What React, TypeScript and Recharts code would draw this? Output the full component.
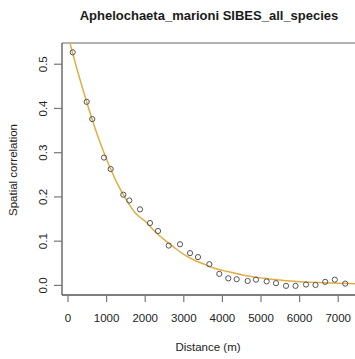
import React from 'react';
import { ComposedChart, Line, Scatter, XAxis, YAxis, ReferenceLine } from 'recharts';

const distances = [122, 484, 629, 933, 1106, 1433, 1588, 1865, 2124, 2332, 2609, 2902, 3161, 3368, 3661, 3920, 4153, 4370, 4655, 4870, 5147, 5389, 5648, 5894, 6166, 6412, 6663, 6912, 7181];
const correlations = [0.527, 0.415, 0.376, 0.289, 0.263, 0.205, 0.192, 0.172, 0.141, 0.123, 0.090, 0.093, 0.073, 0.064, 0.048, 0.026, 0.016, 0.014, 0.010, 0.013, 0.009, 0.005, -0.001, -0.001, 0.002, 0.001, 0.008, 0.013, 0.004];

const fitDistances = [0, 250, 500, 750, 1000, 1250, 1500, 1750, 2000, 2250, 2500, 2750, 3000, 3250, 3500, 3750, 4000, 4250, 4500, 4750, 5000, 5250, 5500, 5750, 6000, 6250, 6500, 6750, 7000, 7250, 7500, 7750];
const fitValues = [0.565, 0.484, 0.41, 0.343, 0.285, 0.235, 0.195, 0.163, 0.145, 0.122, 0.103, 0.086, 0.07, 0.058, 0.049, 0.04, 0.034, 0.029, 0.024, 0.02, 0.017, 0.014, 0.012, 0.01, 0.0085, 0.0073, 0.0063, 0.0055, 0.0048, 0.0042, 0.0037, 0.0033];

const xTicks = [0, 1000, 2000, 3000, 4000, 5000, 6000, 7000];
const yTicks = [0, 0.1, 0.2, 0.3, 0.4, 0.5];
const yTickLabels = ['0.0', '0.1', '0.2', '0.3', '0.4', '0.5'];

const title = 'Aphelochaeta_marioni SIBES_all_species';
const xLabel = 'Distance (m)';
const yLabel = 'Spatial correlation';

const points = distances.map((d, i) => ({ x: d, y: correlations[i] }));
const fit = fitDistances.map((d, i) => ({ x: d, y: fitValues[i] }));

const FONT = '"Liberation Sans", Arial, Helvetica, sans-serif';

const XTick = (props: any) => {
  const { x, y, payload } = props;
  return (
    <g>
      <line x1={x} x2={x} y1={y} y2={y + 7} stroke="#777" strokeWidth={1.2} />
      <text x={x} y={y + 27} textAnchor="middle" fontSize={11.5} fill="#222" fontFamily={FONT}>
        {payload.value}
      </text>
    </g>
  );
};

const YTick = (props: any) => {
  const { x, y, payload } = props;
  const idx = yTicks.indexOf(payload.value);
  const label = idx >= 0 ? yTickLabels[idx] : String(payload.value);
  const tx = x - 19;
  return (
    <g>
      <line x1={x - 8} x2={x} y1={y} y2={y} stroke="#777" strokeWidth={1.2} />
      <text x={tx} y={y} transform={`rotate(-90 ${tx} ${y})`} textAnchor="middle" dominantBaseline="central" fontSize={11.5} fill="#222" fontFamily={FONT}>
        {label}
      </text>
    </g>
  );
};

const Dot = (props: any) => {
  const { cx, cy } = props;
  return <circle cx={cx} cy={cy} r={2.6} fill="none" stroke="#555" strokeWidth={1} />;
};

export default function App() {
  return (
    <div style={{ position: 'absolute', left: 0, top: 0, width: 355, height: 359, overflow: 'hidden', background: '#fff' }}>
      <ComposedChart width={370} height={359} margin={{ top: 43, right: 5, left: 0, bottom: 34 }}>
        <XAxis
          type="number"
          dataKey="x"
          domain={[-155, 7694]}
          ticks={xTicks}
          allowDataOverflow
          height={30}
          tickSize={0}
          tickMargin={0}
          tick={<XTick />}
          axisLine={{ stroke: '#555', strokeWidth: 1.3 }}
        />
        <YAxis
          type="number"
          dataKey="y"
          domain={[-0.0217, 0.548]}
          ticks={yTicks}
          allowDataOverflow
          width={62}
          tickSize={0}
          tickMargin={0}
          tick={<YTick />}
          axisLine={{ stroke: '#555', strokeWidth: 1.3 }}
        />
        <ReferenceLine y={0.548} stroke="#999" strokeWidth={1.5} />
        <Line
          data={fit}
          dataKey="y"
          type="monotone"
          stroke="#E0AE45"
          strokeWidth={1.5}
          dot={false}
          activeDot={false}
          isAnimationActive={false}
        />
        <Scatter data={points} dataKey="y" shape={<Dot />} isAnimationActive={false} />
        <text x={209} y={20} textAnchor="middle" fontSize={13} fontWeight="bold" fill="#1a1a1a" fontFamily={FONT}>
          {title}
        </text>
        <text x={208} y={351} textAnchor="middle" fontSize={11.5} fill="#222" fontFamily={FONT}>
          {xLabel}
        </text>
        <text x={17} y={170} transform="rotate(-90 17 170)" textAnchor="middle" fontSize={11.5} fill="#222" fontFamily={FONT}>
          {yLabel}
        </text>
      </ComposedChart>
    </div>
  );
}
